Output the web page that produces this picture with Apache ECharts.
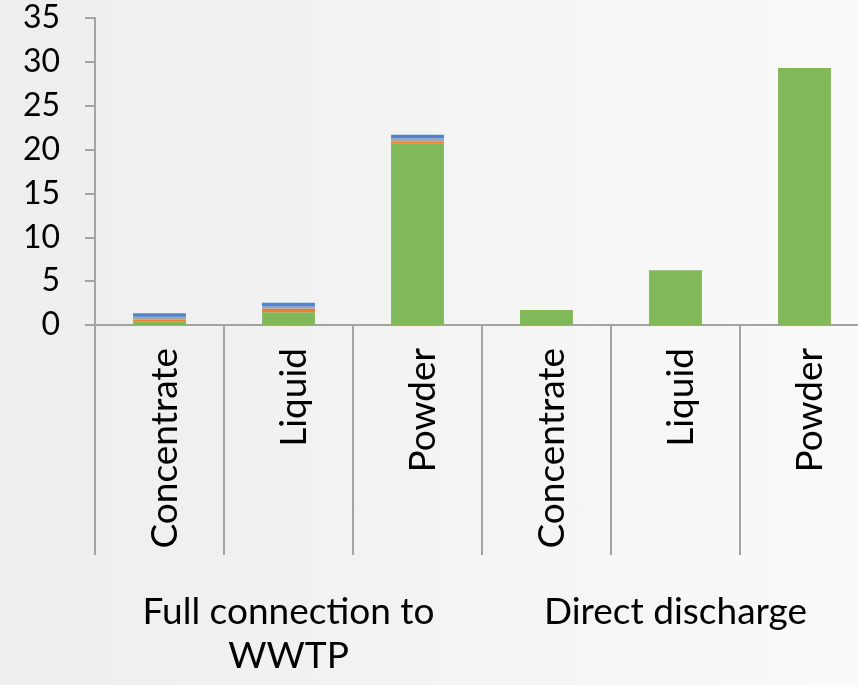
<!DOCTYPE html>
<html>
<head>
<meta charset="utf-8">
<script src="https://cdn.jsdelivr.net/npm/echarts@6/dist/echarts.min.js"></script>
<style>
  html, body { margin: 0; padding: 0; overflow: hidden; }
  body { width: 858px; height: 685px; background: #fafafa; }
  #chart {
    width: 870px; height: 685px;
    background: linear-gradient(90deg, #eeeeee 0%, #f3f3f3 50%, #fafafa 100%);
  }
</style>
</head>
<body>
<div id="chart"></div>
<script>
// Product forms, grouped by wastewater route
const categories = ['Concentrate', 'Liquid', 'Powder', 'Concentrate', 'Liquid', 'Powder'];
const groups = ['Full connection to\nWWTP', 'Direct discharge'];
const yTicks = [0, 5, 10, 15, 20, 25, 30, 35];

// Stacked contributions per product form
const greenValues  = [0.42, 1.45, 20.65, 1.7, 6.25, 29.3];
const orangeValues = [0.18, 0.4, 0.23, 0, 0, 0];
const greyValues   = [0.34, 0.25, 0.38, 0, 0, 0];
const blueValues   = [0.4, 0.45, 0.42, 0, 0, 0];
const yellowValues = [-0.2, -0.25, -0.3, 0, 0, 0];

const axisGrey = '#a3a3a3';
const font = 'Lato, "Open Sans", sans-serif';

// The plot runs slightly past the right edge of the visible window
const chart = echarts.init(document.getElementById('chart'));

function stackSeries(name, data, color) {
  return {
    name, type: 'bar', stack: 'total', data,
    barWidth: '41%',
    itemStyle: { color },
    emphasis: { disabled: true }
  };
}

chart.setOption({
  animation: false,
  backgroundColor: 'transparent',
  grid: { left: 95, top: 18, right: 1, height: 307, containLabel: false },
  yAxis: {
    type: 'value',
    min: yTicks[0], max: yTicks[yTicks.length - 1], interval: 5,
    axisLine: { show: true, lineStyle: { color: axisGrey, width: 2 } },
    axisTick: { show: true, length: 10, lineStyle: { color: axisGrey, width: 2 } },
    axisLabel: { margin: 35, fontSize: 32, color: '#000', fontFamily: font },
    splitLine: { show: false }
  },
  xAxis: [
    {
      type: 'category',
      data: categories,
      axisLine: { show: true, onZero: false, lineStyle: { color: axisGrey, width: 2 } },
      axisTick: { show: true, interval: 0, length: 230, lineStyle: { color: axisGrey, width: 2 } },
      axisLabel: {
        interval: 0, rotate: 90, margin: 23, fontSize: 37, color: '#000', fontFamily: font,
        verticalAlign: 'top', lineHeight: 12
      }
    },
    {
      type: 'category',
      data: groups,
      position: 'bottom',
      offset: 230,
      axisLine: { show: false },
      axisTick: { show: true, interval: 0, length: 130, lineStyle: { color: axisGrey, width: 2 } },
      axisLabel: {
        interval: 0, margin: 35, fontSize: 37, lineHeight: 44, color: '#000', fontFamily: font
      }
    }
  ],
  series: [
    stackSeries('Green', greenValues, '#80b85a'),
    stackSeries('Orange', orangeValues, '#ed7d31'),
    stackSeries('Grey', greyValues, '#a5a5a5'),
    stackSeries('Blue', blueValues, '#5083cf'),
    stackSeries('Yellow', yellowValues, '#ffc000')
  ]
});
</script>
</body>
</html>
